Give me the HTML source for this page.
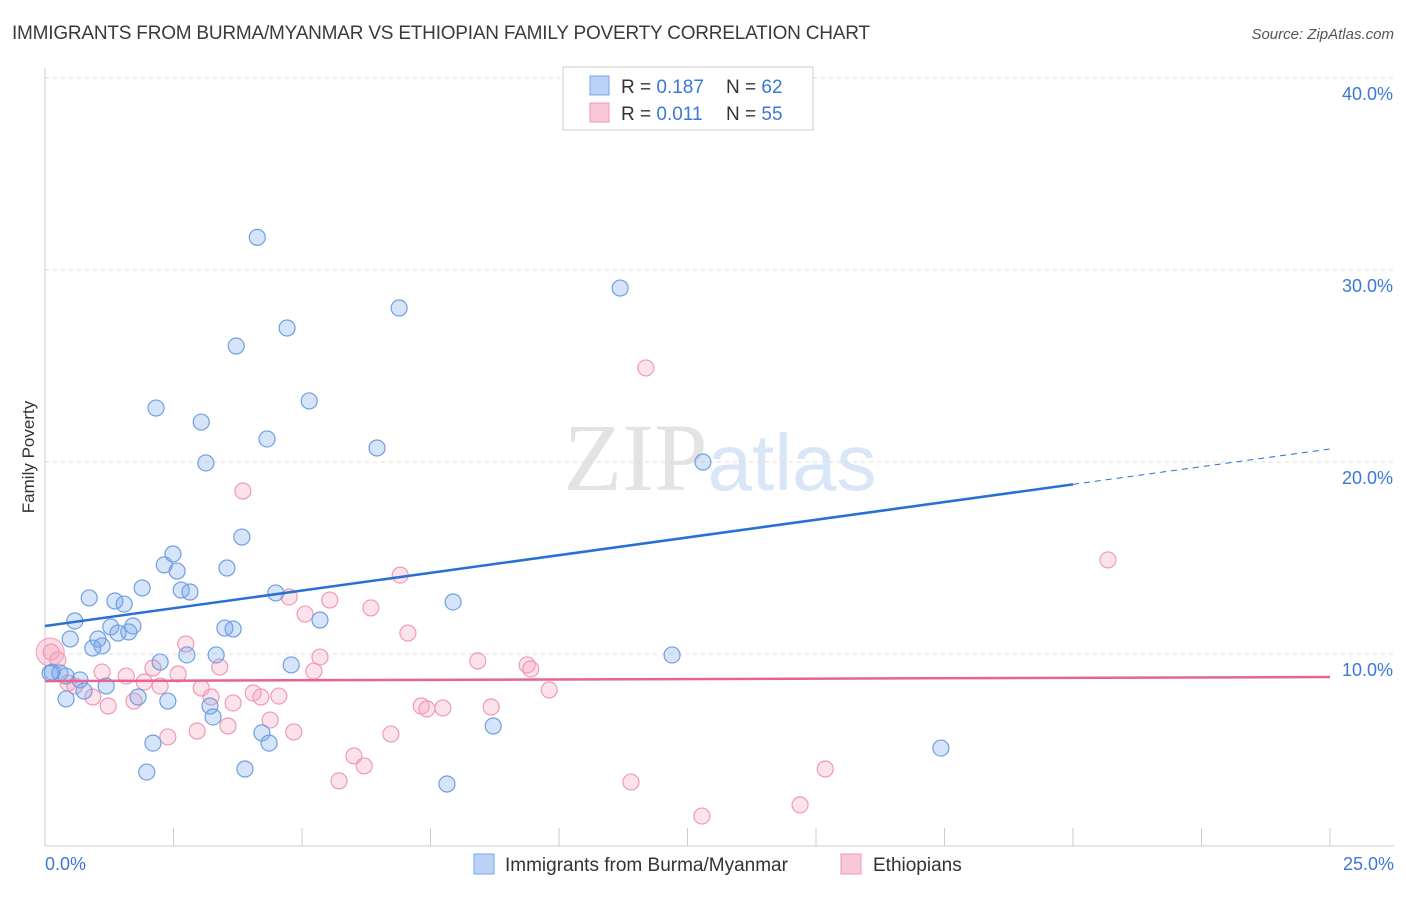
<!DOCTYPE html>
<html><head><meta charset="utf-8"><style>
body{margin:0;background:#fff;font-family:"Liberation Sans",sans-serif;}
</style></head><body>
<svg id="chart" width="1406" height="892" xmlns="http://www.w3.org/2000/svg">
<text x="12" y="39" font-size="19" fill="#3a3a3a" textLength="858">IMMIGRANTS FROM BURMA/MYANMAR VS ETHIOPIAN FAMILY POVERTY CORRELATION CHART</text>
<text x="1394" y="39" font-size="15" fill="#555" font-style="italic" text-anchor="end">Source: ZipAtlas.com</text>
<text x="34" y="457" font-size="17" fill="#333" text-anchor="middle" transform="rotate(-90 34 457)">Family Poverty</text>
<text x="720" y="490" font-size="96" fill="#e3e3e3" text-anchor="middle" font-family="Liberation Serif,serif">ZIP<tspan fill="#d8e6f7" font-family="Liberation Sans,sans-serif" font-size="80">atlas</tspan></text>
<g id="grid"></g><g id="marks"></g>
<g>
<rect x="563" y="67" width="250" height="63" fill="#fff" stroke="#ccc"/>
<rect x="590" y="76" width="19" height="19" fill="#b9d2f5" stroke="#7aa6e6"/>
<text x="621" y="93" font-size="19" fill="#333">R = <tspan fill="#3a78d8">0.187</tspan></text>
<text x="726" y="93" font-size="19" fill="#333">N = <tspan fill="#3a78d8">62</tspan></text>
<rect x="590" y="103" width="19" height="19" fill="#f9c8d8" stroke="#ef9ab5"/>
<text x="621" y="120" font-size="19" fill="#333">R = <tspan fill="#3a78d8">0.011</tspan></text>
<text x="726" y="120" font-size="19" fill="#333">N = <tspan fill="#3a78d8">55</tspan></text>
</g>
<g>
<rect x="474" y="854" width="20" height="20" fill="#b9d2f5" stroke="#7aa6e6"/>
<text x="505" y="871" font-size="19" fill="#333">Immigrants from Burma/Myanmar</text>
<rect x="841" y="854" width="20" height="20" fill="#f9c8d8" stroke="#ef9ab5"/>
<text x="873" y="871" font-size="19" fill="#333">Ethiopians</text>
</g>
</svg>
<script>
const blueX=[4.13,11.19,6.89,4.71,3.72,2.16,5.14,3.04,4.32,6.46,3.13,12.8,3.83,2.49,2.32,2.57,3.54,1.89,2.65,2.82,4.49,0.86,1.36,1.54,7.94,0.58,5.35,1.28,1.71,3.5,3.66,1.42,1.63,0.49,1.03,1.11,0.93,2.24,2.76,3.33,4.79,12.2,0.14,0.29,0.41,0.68,1.19,0.76,1.81,0.41,2.39,3.21,3.27,8.72,4.22,2.1,4.36,17.43,1.98,3.89,7.82,0.1];
const blueY=[31.7,29.06,28.02,26.98,26.04,22.81,23.18,22.08,21.2,20.73,19.95,20.0,16.09,15.21,14.64,14.32,14.48,13.44,13.33,13.23,13.18,12.92,12.76,12.6,12.71,11.72,11.77,11.41,11.46,11.35,11.3,11.09,11.15,10.78,10.78,10.42,10.31,9.58,9.95,9.95,9.43,9.95,9.06,9.01,8.85,8.65,8.33,8.07,7.76,7.66,7.55,7.29,6.72,6.25,5.89,5.36,5.36,5.1,3.85,4.01,3.23,9.01];
const pinkX=[11.69,3.85,20.68,6.91,4.75,5.54,6.34,5.06,7.06,2.74,5.35,8.42,0.12,0.25,9.38,9.45,3.4,2.1,5.23,1.11,1.58,2.59,1.93,2.24,0.45,0.58,3.04,9.81,4.05,4.2,4.55,3.23,0.93,3.66,1.73,1.23,7.32,7.43,7.74,8.68,3.56,4.38,2.96,2.39,4.84,6.73,6.01,6.21,5.72,11.4,15.18,14.69,12.78];
const pinkY=[24.9,18.49,14.9,14.11,12.97,12.81,12.4,12.08,11.09,10.52,9.84,9.64,10.1,9.69,9.43,9.22,9.32,9.27,9.11,9.06,8.85,8.96,8.54,8.33,8.49,8.33,8.23,8.13,7.97,7.76,7.81,7.76,7.76,7.45,7.55,7.29,7.29,7.14,7.19,7.24,6.25,6.56,5.99,5.68,5.94,5.83,4.69,4.17,3.39,3.33,4.01,2.14,1.56];
const yTicks=[10,20,30,40];
const blueTrend=[11.46,20.68];
const pinkTrend=[8.59,8.8];
const NS='http://www.w3.org/2000/svg';
const sx=v=>45+v/25*1285, sy=v=>846-v*19.2;
function mk(p,tag,a){const e=document.createElementNS(NS,tag);for(const k in a)e.setAttribute(k,a[k]);p.appendChild(e);return e;}
const grid=document.getElementById('grid'),marks=document.getElementById('marks');
yTicks.forEach(t=>{
 const l=mk(grid,'line',{x1:45,x2:1394,y1:sy(t),y2:sy(t),stroke:'#ddd','stroke-dasharray':'4 4'});
 
 
 const tx=mk(grid,'text',{x:1393,y:sy(t)+22,'font-size':18,fill:'#3a78d8','text-anchor':'end'});tx.textContent=t.toFixed(1)+'%';
 
 
});
mk(grid,'line',{x1:45,x2:45,y1:68,y2:846,stroke:'#ccc'});
mk(grid,'line',{x1:45,x2:1394,y1:846,y2:846,stroke:'#ccc'});
for(let i=1;i<=10;i++){mk(grid,'line',{x1:sx(i*2.5),x2:sx(i*2.5),y1:828,y2:846,stroke:'#ccc'});}
let t0=mk(grid,'text',{x:45,y:870,'font-size':18,fill:'#3a78d8'});t0.textContent='0.0%';


let t1=mk(grid,'text',{x:1394,y:870,'font-size':18,fill:'#3a78d8','text-anchor':'end'});t1.textContent='25.0%';


let bg1=mk(marks,'circle',{cx:sx(0.1),cy:sy(10.1),r:14,fill:'rgba(240,150,180,0.35)',stroke:'#ef9ab5'});


pinkX.forEach((x,i)=>{const c=mk(marks,'circle',{cx:sx(x),cy:sy(pinkY[i]),r:8,fill:'rgba(245,160,190,0.3)',stroke:'#ef9ab5','stroke-width':1.2});

});
blueX.forEach((x,i)=>{const c=mk(marks,'circle',{cx:sx(x),cy:sy(blueY[i]),r:8,fill:'rgba(120,165,235,0.3)',stroke:'#6f9fe0','stroke-width':1.2});

});
const bx=20,by=blueTrend[0]+(blueTrend[1]-blueTrend[0])*bx/25;
let bl=mk(marks,'line',{x1:sx(0),y1:sy(blueTrend[0]),x2:sx(bx),y2:sy(by),stroke:'#2a6fd6','stroke-width':2.5});


let bd=mk(marks,'line',{x1:sx(bx),y1:sy(by),x2:sx(25),y2:sy(blueTrend[1]),stroke:'#2a6fd6','stroke-width':1,'stroke-dasharray':'6 5'});


let pl=mk(marks,'line',{x1:sx(0),y1:sy(pinkTrend[0]),x2:sx(25),y2:sy(pinkTrend[1]),stroke:'#e8638f','stroke-width':2.5});


</script>
</body></html>
